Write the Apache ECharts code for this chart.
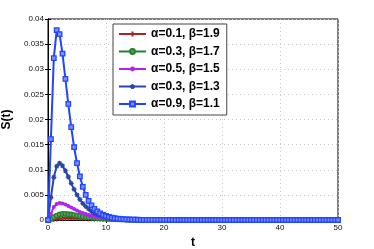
<!DOCTYPE html>
<html>
<head>
<meta charset="utf-8">
<script src="https://cdn.jsdelivr.net/npm/echarts@6/dist/echarts.min.js"></script>
<style>html,body{margin:0;padding:0;background:#fff}#c{width:374px;height:249px}</style>
</head>
<body>
<div id="c"></div>
<script>
// time points t = 0 .. 50 step 0.5
const tVals = [
 0,0.5,1,1.5,2,2.5,3,3.5,4,4.5,5,5.5,6,6.5,7,7.5,8,8.5,9,9.5,
 10,10.5,11,11.5,12,12.5,13,13.5,14,14.5,15,15.5,16,16.5,17,17.5,18,18.5,19,19.5,
 20,20.5,21,21.5,22,22.5,23,23.5,24,24.5,25,25.5,26,26.5,27,27.5,28,28.5,29,29.5,
 30,30.5,31,31.5,32,32.5,33,33.5,34,34.5,35,35.5,36,36.5,37,37.5,38,38.5,39,39.5,
 40,40.5,41,41.5,42,42.5,43,43.5,44,44.5,45,45.5,46,46.5,47,47.5,48,48.5,49,49.5,50
];
const legendNames = ['α=0.1, β=1.9','α=0.3, β=1.7','α=0.5, β=1.5','α=0.3, β=1.3','α=0.9, β=1.1'];
const xTicks = [0,10,20,30,40,50];
const yTicks = [0,0.005,0.01,0.015,0.02,0.025,0.03,0.035,0.04];

const sRed = [
 0,0.00003,0.0001,0.0002,0.00028,0.00034,0.00038,0.0004,0.0004,0.00039,
 0.00037,0.00035,0.00032,0.0003,0.00027,0.00025,0.00022,0.0002,0.00018,0.00016,
 0.00015,0.00013,0.00012,0.00011,0.0001,0.00009,0.00008,0.00007,0.00006,0.00005,
 0.00005,0.00004,0.00004,0.00003,0.00003,0.00003,0.00002,0.00002,0.00002,0.00002,
 0.00001,0.00001,0.00001,0.00001,0.00001,0.00001,0,0,0,0,
 0,0,0,0,0,0,0,0,0,0, 0,0,0,0,0,0,0,0,0,0, 0,0,0,0,0,0,0,0,0,0,
 0,0,0,0,0,0,0,0,0,0, 0,0,0,0,0,0,0,0,0,0, 0
];
const sGreen = [
 0,0.0002,0.0006,0.0009,0.0011,0.0012,0.0012,0.00115,0.0011,0.001,
 0.0009,0.0008,0.0007,0.0006,0.00055,0.00048,0.00042,0.00037,0.00032,0.00028,
 0.00024,0.00021,0.00018,0.00015,0.00013,0.00011,0.0001,0.00009,0.00008,0.00007,
 0.00006,0.00005,0.00005,0.00004,0.00004,0.00003,0.00003,0.00002,0.00002,0.00002,
 0.00002,0.00001,0.00001,0.00001,0.00001,0.00001,0.00001,0,0,0,
 0,0,0,0,0,0,0,0,0,0, 0,0,0,0,0,0,0,0,0,0, 0,0,0,0,0,0,0,0,0,0,
 0,0,0,0,0,0,0,0,0,0, 0,0,0,0,0,0,0,0,0,0, 0
];
const sPurple = [
 0,0.0012,0.0026,0.0032,0.0034,0.0033,0.0031,0.0028,0.0025,0.0022,
 0.0019,0.0016,0.0014,0.0012,0.001,0.00085,0.0007,0.0006,0.0005,0.0004,
 0.00035,0.0003,0.00025,0.0002,0.00017,0.00014,0.00012,0.0001,0.00008,0.00007,
 0.00006,0.00005,0.00004,0.00004,0.00003,0.00003,0.00002,0.00002,0.00002,0.00001,
 0.00001,0.00001,0.00001,0.00001,0,0,0,0,0,0,
 0,0,0,0,0,0,0,0,0,0, 0,0,0,0,0,0,0,0,0,0, 0,0,0,0,0,0,0,0,0,0,
 0,0,0,0,0,0,0,0,0,0, 0,0,0,0,0,0,0,0,0,0, 0
];
const sDarkBlue = [
 0,0.0045,0.0085,0.0107,0.0113,0.0108,0.0098,0.0086,0.0073,0.0061,
 0.005,0.0041,0.0033,0.0027,0.0022,0.0017,0.0014,0.0011,0.0009,0.0007,
 0.0006,0.0005,0.0004,0.0003,0.00025,0.0002,0.00015,0.00012,0.0001,0.00008,
 0.00006,0.00005,0.00004,0.00003,0.00003,0.00002,0.00002,0.00001,0.00001,0.00001,
 0.00001,0,0,0,0,0,0,0,0,0,
 0,0,0,0,0,0,0,0,0,0, 0,0,0,0,0,0,0,0,0,0, 0,0,0,0,0,0,0,0,0,0,
 0,0,0,0,0,0,0,0,0,0, 0,0,0,0,0,0,0,0,0,0, 0
];
const sBlue = [
 0,0.0161,0.0322,0.0378,0.037,0.0331,0.0281,0.0231,0.0185,0.0145,
 0.0113,0.0087,0.0066,0.005,0.0038,0.0029,0.0022,0.0017,0.0013,0.001,
 0.0008,0.0006,0.00045,0.00035,0.00027,0.0002,0.00016,0.00012,0.0001,0.00008,
 0.00006,0.00005,0.00004,0.00003,0.00003,0.00002,0.00002,0.00002,0.00001,0.00001,
 0.00001,0.00001,0.00001,0,0,0,0,0,0,0,
 0,0,0,0,0,0,0,0,0,0, 0,0,0,0,0,0,0,0,0,0, 0,0,0,0,0,0,0,0,0,0,
 0,0,0,0,0,0,0,0,0,0, 0,0,0,0,0,0,0,0,0,0, 0
];

const seriesValues = [sRed, sGreen, sPurple, sDarkBlue, sBlue];
const colors = ['#a3261f', '#23802a', '#b022f5', '#2a46a8', '#2145ff'];
const symbols = [
  'path://M5 0L5 10M0 5L10 5',
  'circle',
  'circle',
  'path://M5 0L5 10M0 5L10 5M1.5 1.5L8.5 8.5M8.5 1.5L1.5 8.5',
  'rect'
];
const symbolSizes = [5, 4.5, 4, 5, 4.5];

function pairs(vals) { return tVals.map((t, i) => [t, vals[i]]); }

const series = seriesValues.map((vals, k) => {
  const c = colors[k];
  let itemStyle;
  if (k === 0 || k === 3) itemStyle = { color: c, borderColor: c, borderWidth: 1.2 };
  else if (k === 1) itemStyle = { color: '#5aa05e', borderColor: c, borderWidth: 1.2 };
  else if (k === 2) itemStyle = { color: c, borderColor: c, borderWidth: 0 };
  else itemStyle = { color: '#7f8fff', borderColor: c, borderWidth: 1.3 };
  return {
    name: legendNames[k],
    type: 'line',
    data: pairs(vals),
    symbol: symbols[k],
    symbolSize: symbolSizes[k],
    showAllSymbol: true,
    lineStyle: { color: c, width: 2 },
    itemStyle: itemStyle,
    emphasis: { disabled: true },
    animation: false,
    clip: true
  };
});

const labelFont = { fontFamily: 'Liberation Sans, Arial, sans-serif', fontSize: 8, color: '#111' };
const chart = echarts.init(document.getElementById('c'), null, { renderer: 'canvas' });
chart.setOption({
  animation: false,
  backgroundColor: '#fff',
  grid: { left: 48, right: 36, top: 19, bottom: 29, containLabel: false, outerBoundsMode: 'none', show: true, borderColor: '#000', borderWidth: 1, backgroundColor: 'transparent' },
  legend: {
    orient: 'vertical', left: 113, top: 24,
    data: legendNames,
    itemWidth: 27, itemHeight: 6, itemGap: 5.5, itemTextGap: 3,
    padding: [4, 7, 5, 5],
    backgroundColor: '#fff', borderColor: '#444', borderWidth: 1,
    textStyle: { fontFamily: 'Liberation Sans, Arial, sans-serif', fontSize: 12, fontWeight: 'bold', color: '#000' },
    selectedMode: false
  },
  xAxis: [{
    type: 'value', min: xTicks[0], max: xTicks[xTicks.length - 1], interval: 10,
    name: 't', nameLocation: 'middle', nameGap: 13,
    nameTextStyle: { fontFamily: 'Liberation Sans, Arial, sans-serif', fontSize: 12, fontWeight: 'bold', color: '#000' },
    axisLine: { show: true, lineStyle: { color: '#000', width: 1 } },
    axisTick: { show: true, inside: true, length: 3, lineStyle: { color: '#000' } },
    axisLabel: Object.assign({ margin: 4 }, labelFont),
    splitLine: { show: true, lineStyle: { color: '#c8c8c8', type: [1, 3], width: 1 } }
  }, {
    type: 'value', position: 'top', min: xTicks[0], max: xTicks[xTicks.length - 1], interval: 10,
    axisLine: { show: true, lineStyle: { color: '#000' } },
    axisTick: { show: true, inside: true, length: 3, lineStyle: { color: '#000' } },
    axisLabel: { show: false }, splitLine: { show: false }
  }],
  yAxis: [{
    type: 'value', min: yTicks[0], max: yTicks[yTicks.length - 1], interval: 0.005,
    name: 'S(t)', nameLocation: 'middle', nameGap: 24,
    nameTextStyle: { fontFamily: 'Liberation Sans, Arial, sans-serif', fontSize: 12, fontWeight: 'bold', color: '#000' },
    axisLine: { show: true, lineStyle: { color: '#000', width: 1 } },
    axisTick: { show: true, inside: true, length: 3, lineStyle: { color: '#000' } },
    axisLabel: Object.assign({ margin: 4 }, labelFont),
    splitLine: { show: true, lineStyle: { color: '#c8c8c8', type: [1, 3], width: 1 } }
  }, {
    type: 'value', position: 'right', min: yTicks[0], max: yTicks[yTicks.length - 1], interval: 0.005,
    axisLine: { show: true, lineStyle: { color: '#000' } },
    axisTick: { show: true, inside: true, length: 3, lineStyle: { color: '#000' } },
    axisLabel: { show: false }, splitLine: { show: false }
  }],
  series: series
});
</script>
</body>
</html>
